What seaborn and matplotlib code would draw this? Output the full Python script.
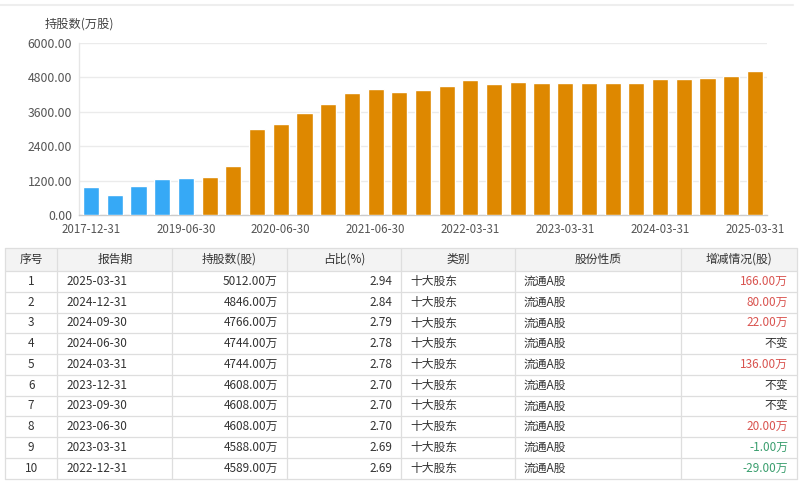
import matplotlib
matplotlib.use("Agg")
import matplotlib.pyplot as plt
import seaborn as sns
import pandas as pd
from matplotlib.patches import Rectangle

# ---------------- data ----------------
periods = ["2017-12-31", "2018-06-30", "2018-12-31", "2019-03-31", "2019-06-30",
           "2019-09-30", "2019-12-31", "2020-03-31", "2020-06-30", "2020-09-30",
           "2020-12-31", "2021-03-31", "2021-06-30", "2021-08-31", "2021-09-30",
           "2021-12-31", "2022-03-31", "2022-06-30", "2022-09-30", "2022-12-31",
           "2023-03-31", "2023-06-30", "2023-09-30", "2023-12-31", "2024-03-31",
           "2024-06-30", "2024-09-30", "2024-12-31", "2025-03-31"]
holdings_wan = [960, 700, 1000, 1250, 1290,
                1330, 1700, 3000, 3170, 3560,
                3850, 4250, 4400, 4270, 4340,
                4490, 4700, 4570, 4620, 4589,
                4588, 4608, 4608, 4608, 4744,
                4744, 4766, 4846, 5012]
holder_type = ["十大流通股东"] * 5 + ["十大股东"] * 24
shown_ticks = ["2017-12-31", "2019-06-30", "2020-06-30", "2021-06-30",
               "2022-03-31", "2023-03-31", "2024-03-31", "2025-03-31"]
y_ticks = [0, 1200, 2400, 3600, 4800, 6000]

headers = ["序号", "报告期", "持股数(股)", "占比(%)", "类别", "股份性质", "增减情况(股)"]
t_seq = ["1", "2", "3", "4", "5", "6", "7", "8", "9", "10"]
t_date = ["2025-03-31", "2024-12-31", "2024-09-30", "2024-06-30", "2024-03-31",
          "2023-12-31", "2023-09-30", "2023-06-30", "2023-03-31", "2022-12-31"]
t_hold = ["5012.00万", "4846.00万", "4766.00万", "4744.00万", "4744.00万",
          "4608.00万", "4608.00万", "4608.00万", "4588.00万", "4589.00万"]
t_ratio = ["2.94", "2.84", "2.79", "2.78", "2.78", "2.70", "2.70", "2.70", "2.69", "2.69"]
t_cat = ["十大股东"] * 10
t_nature = ["流通A股"] * 10
t_change = ["166.00万", "80.00万", "22.00万", "不变", "136.00万",
            "不变", "不变", "20.00万", "-1.00万", "-29.00万"]

# ---------------- style ----------------
sns.set_theme(style="white")
plt.rcParams['font.family'] = ['Noto Sans CJK SC', 'DejaVu Sans']

W, H = 800, 482
fig = plt.figure(figsize=(W / 100, H / 100), dpi=100)

# bar chart axes (pixel geometry)
px_l, px_r, px_t, px_b = 79.2, 766.8, 42.7, 215.0
ax = fig.add_axes([px_l / W, 1 - px_b / H, (px_r - px_l) / W, (px_b - px_t) / H])

df = pd.DataFrame({"period": periods, "value": holdings_wan, "type": holder_type})
palette = {"十大流通股东": "#36a9f6", "十大股东": "#de8800"}
sns.barplot(data=df, x="period", y="value", hue="type", palette=palette,
            dodge=False, width=0.68, legend=False, ax=ax, saturation=1,
            order=periods, zorder=3)

ax.set_ylim(0, 6000)
ax.set_xlim(-0.5, len(periods) - 0.5)
ax.set_yticks(y_ticks)
ax.set_yticklabels([f"{v:.2f}" for v in y_ticks])
ticks_idx = [periods.index(p) for p in shown_ticks]
ax.set_xticks(ticks_idx)
ax.set_xticklabels(shown_ticks)
ax.tick_params(axis="y", length=0, labelsize=8.8, colors="#555555", pad=5)
ax.tick_params(axis="x", length=0, labelsize=8.3, colors="#555555", pad=6)
ax.set_xlabel("")
ax.set_ylabel("")
ax.grid(axis="y", color="#ebebeb", linewidth=1, zorder=0)
for s in ["top", "right"]:
    ax.spines[s].set_visible(False)
ax.spines["left"].set_color("#e6e6e6")
ax.spines["bottom"].set_color("#cccccc")
ax.spines["left"].set_linewidth(1)
ax.spines["bottom"].set_linewidth(1)

# overlay axes in pixel coords for title and table
ov = fig.add_axes([0, 0, 1, 1])
ov.set_xlim(0, W)
ov.set_ylim(H, 0)
ov.axis("off")
ov.patch.set_alpha(0)

ov.plot([0, 793], [5, 5], color="#eeeeee", linewidth=1.5)
ov.text(45, 24, "持股数(万股)", fontsize=8.8, color="#444444", ha="left", va="center")

# table
col_x = [5, 57.3, 172.3, 286.7, 401, 515, 680.7, 797]
top, head_h, row_h = 248, 23, 20.75
n_rows = len(t_seq)
bottom = top + head_h + n_rows * row_h
line_c = "#dedede"

ov.add_patch(Rectangle((col_x[0], top), col_x[-1] - col_x[0], head_h,
                       facecolor="#f3f3f3", edgecolor="none"))
ys = [top, top + head_h] + [top + head_h + (i + 1) * row_h for i in range(n_rows)]
for y in ys:
    ov.plot([col_x[0], col_x[-1]], [y, y], color=line_c, linewidth=0.9)
for x in col_x:
    ov.plot([x, x], [top, bottom], color=line_c, linewidth=0.9)

fs = 8.5
txt_c = "#333333"
for j, h in enumerate(headers):
    ov.text((col_x[j] + col_x[j + 1]) / 2, top + head_h / 2, h, ha="center",
            va="center", fontsize=fs, color=txt_c)

columns = [t_seq, t_date, t_hold, t_ratio, t_cat, t_nature, t_change]
aligns = ["center", "left", "right", "right", "left", "left", "right"]
pad = 9
for j, (col, al) in enumerate(zip(columns, aligns)):
    for i, val in enumerate(col):
        yc = top + head_h + (i + 0.5) * row_h
        if al == "center":
            xx = (col_x[j] + col_x[j + 1]) / 2
        elif al == "left":
            xx = col_x[j] + pad
        else:
            xx = col_x[j + 1] - pad
        c = txt_c
        if j == 6:
            if val.startswith("-"):
                c = "#3a9e6e"
            elif val != "不变":
                c = "#d9534f"
        ov.text(xx, yc, val, ha=al, va="center", fontsize=fs, color=c)

fig.savefig("out.png", dpi=100, facecolor="white")
